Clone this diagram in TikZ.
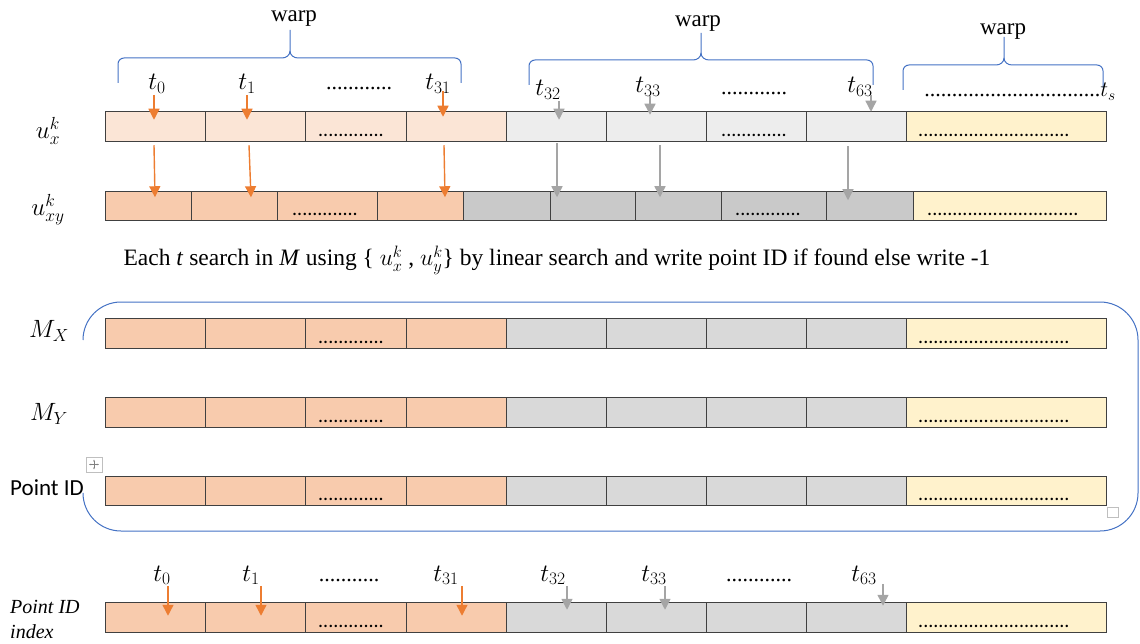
\RequirePackage{fix-cm}
\documentclass[tikz,border=0pt]{standalone}
\usepackage{fontspec}
\setmainfont{Liberation Serif}
\newfontfamily\calibri{Carlito}
\usetikzlibrary{arrows.meta,positioning}

\definecolor{peachlt}{HTML}{FBE5D6}
\definecolor{peach}{HTML}{F8CBAD}
\definecolor{greylt}{HTML}{EDEDED}
\definecolor{greymd}{HTML}{D9D9D9}
\definecolor{greydk}{HTML}{C9C9C9}
\definecolor{cream}{HTML}{FFF2CC}
\definecolor{boxline}{HTML}{404040}
\definecolor{arrorange}{HTML}{ED7D31}
\definecolor{arrgrey}{HTML}{A5A5A5}
\definecolor{braceblue}{HTML}{4472C4}

\begin{document}
\begin{tikzpicture}[x=1pt, y=-1pt,
	cell/.style={draw=boxline, line width=1pt, minimum height=29.5pt, inner sep=0pt, outer sep=0pt, anchor=west},
	tlab/.style={font=\fontsize{25}{25}\selectfont, inner sep=1pt, anchor=base},
	tdots/.style={font=\fontsize{22}{22}\selectfont, inner sep=1pt, anchor=base},
	warplab/.style={font=\fontsize{23}{23}\selectfont, inner sep=0pt, anchor=base},
	rowlab/.style={font=\fontsize{25}{25}\selectfont, inner sep=0pt},
	celldots/.style={font=\calibri\fontsize{20}{20}\selectfont, inner sep=0pt, anchor=base west},
	oarr/.style={draw=arrorange, line width=1.4pt, -{Triangle[width=11pt,length=11pt]}},
	garr/.style={draw=arrgrey, line width=1.4pt, -{Triangle[width=11pt,length=11pt]}},
	brace/.style={draw=braceblue, line width=1pt}]

	\useasboundingbox (0,0) rectangle (1140,644);

	% ---- u_x^k row
	\foreach \l/\r/\c [count=\i, evaluate=\r as \w using \r-\l] in
		{105/205/peachlt, 205/305/peachlt, 305/406/peachlt, 406/506/peachlt,
		 506/606/greylt, 606/706/greylt, 706/806/greylt, 806/906/greylt, 906/1106/cream}
		\node[cell, fill=\c, minimum width=\w pt] (ux\i) at (\l,126.5) {};
	\node[celldots] at ([xshift=13pt,yshift=5pt]ux3.south west) {.............};
	\node[celldots] at ([xshift=15pt,yshift=5pt]ux7.south west) {.............};
	\node[celldots] at ([xshift=12pt,yshift=5pt]ux9.south west) {..............................};

	% ---- u_xy^k row
	\foreach \l/\r/\c [count=\i, evaluate=\r as \w using \r-\l] in
		{105/191/peach, 191/277/peach, 277/377/peach, 377/463/peach,
		 463/550/greydk, 550/635/greydk, 635/721/greydk, 721/826/greydk, 826/913/greydk, 913/1106/cream}
		\node[cell, fill=\c, minimum width=\w pt] (uxy\i) at (\l,206) {};
	\node[celldots] at ([xshift=15pt,yshift=5pt]uxy3.south west) {.............};
	\node[celldots] at ([xshift=14pt,yshift=5pt]uxy8.south west) {.............};
	\node[celldots] at ([xshift=14pt,yshift=5pt]uxy10.south west) {..............................};

	% ---- M_X, M_Y, Point ID and index rows
	\foreach \rn/\ry in {mx/333.5, my/412.5, pid/491, idx/617.5} {
		\foreach \l/\r/\c [count=\i, evaluate=\r as \w using \r-\l] in
			{105/205/peach, 205/305/peach, 305/406/peach, 406/506/peach,
			 506/606/greymd, 606/706/greymd, 706/806/greymd, 806/906/greymd, 906/1106/cream}
			\node[cell, fill=\c, minimum width=\w pt] (\rn\i) at (\l,\ry) {};
		\node[celldots] at ([xshift=13pt,yshift=5pt]\rn3.south west) {.............};
		\node[celldots] at ([xshift=12pt,yshift=5pt]\rn9.south west) {..............................};
	}

	% row labels
	\node[rowlab] (lux) at (48,131) {$u^k_x$};
	\node[rowlab] (luxy) at (48,210) {$u^k_{xy}$};
	\node[rowlab] (lmx) at (49,331) {$M_X$};
	\node[rowlab] (lmy) at (49,414) {$M_Y$};
	\node[font=\calibri\fontsize{23}{23}\selectfont, inner sep=0pt, anchor=base west] (lpid) at (10,495) {Point ID};
	\node[font=\itshape\fontsize{20}{25}\selectfont, inner sep=0pt, align=left, anchor=north west] (lidx) at (10,600) {Point ID\\index};

	% warps
	\node[warplab] (warpA) at (294,22) {warp};
	\node[warplab] (warpB) at (698,27) {warp};
	\node[warplab] (warpC) at (1003,35) {warp};
	\draw[brace] (118,83) -- (118,64) to[out=90,in=180] (124,58) -- (282,58) to[out=0,in=-90] (290,51) -- (290,30);
	\draw[brace] (290,51) to[out=-90,in=180] (298,58) -- (455,58) to[out=0,in=90] (461,64) -- (461,83);
	\draw[brace] (529,85) -- (529,66) to[out=90,in=180] (535,60) -- (693,60) to[out=0,in=-90] (701,53) -- (701,33);
	\draw[brace] (701,53) to[out=-90,in=180] (709,60) -- (867,60) to[out=0,in=90] (873,66) -- (873,85);
	\draw[brace] (903,90) -- (903,71) to[out=90,in=180] (909,65) -- (996,65) to[out=0,in=-90] (1004,58) -- (1004,37);
	\draw[brace] (1004,58) to[out=-90,in=180] (1012,65) -- (1097,65) to[out=0,in=90] (1103,71) -- (1103,88);

	% thread labels, top
	\node[tlab] (t0) at (157,90) {$t_0$};
	\node[tlab] (t1) at (247,90) {$t_1$};
	\node[tdots] (dotsA) at (359,90) {............};
	\node[tlab] (t31) at (438,90) {$t_{31}$};
	\node[tlab] (t32) at (548,96) {$t_{32}$};
	\node[tlab] (t33) at (648,93) {$t_{33}$};
	\node[tdots] (dotsB) at (754,95) {............};
	\node[tlab] (t63) at (860,93) {$t_{63}$};
	\node[tlab, anchor=base east] (ts) at (1117,97) {\fontsize{22}{22}\selectfont................................$t_s$};

	\draw[oarr] ([xshift=-3pt]t0.south) -- ([xshift=-3pt,yshift=-8pt]t0.south |- ux1.north);
	\draw[oarr] (t1.south) -- ([yshift=-8pt]t1.south |- ux2.north);
	\draw[oarr] ([xshift=5pt,yshift=4pt]t31.south) -- ([xshift=5pt,yshift=-5pt]t31.south |- ux4.north);
	\draw[garr] ([xshift=11pt]t32.south) -- ([xshift=11pt,yshift=-8pt]t32.south |- ux5.north);
	\draw[garr] ([xshift=2pt,yshift=2pt]t33.south) -- ([xshift=2pt,yshift=-3pt]t33.south |- ux6.north);
	\draw[garr] ([xshift=11pt,yshift=3pt]t63.south) -- ([xshift=11pt,yshift=0pt]t63.south |- ux8.north);

	% u_x^k to u_xy^k
	\draw[oarr] ([xshift=-3pt,yshift=-4pt]t0.south |- ux1.south) -- ([xshift=-2pt,yshift=-6pt]t0.south |- uxy1.north);
	\draw[oarr] ([xshift=2pt,yshift=-4pt]t1.south |- ux2.south) -- ([xshift=4pt,yshift=-6pt]t1.south |- uxy2.north);
	\draw[oarr] ([xshift=6pt,yshift=-4pt]t31.south |- ux4.south) -- ([xshift=7pt,yshift=-6pt]t31.south |- uxy4.north);
	\draw[garr] ([xshift=9pt,yshift=-2pt]t32.south |- ux5.south) -- ([xshift=9pt,yshift=-6pt]t32.south |- uxy5.north);
	\draw[garr] ([xshift=12pt,yshift=-4pt]t33.south |- ux6.south) -- ([xshift=12pt,yshift=-6pt]t33.south |- uxy7.north);
	\draw[garr] ([xshift=-12pt,yshift=-5pt]t63.south |- ux8.south) -- ([xshift=-12pt,yshift=-9pt]t63.south |- uxy9.north);

	% search note
	\node[font=\fontsize{23.5}{23.5}\selectfont, inner sep=0pt, anchor=base] (note) at (557,266)
		{Each \textit{t} search in \textit{M} using \{ $u^k_x$ , $u^k_y$\} by linear search and write point ID if found else write -1};

	% group round the M rows
	\draw[brace] (83,340) arc[start angle=180, end angle=90, radius=38pt] -- (1100,302)
		arc[start angle=90, end angle=0, radius=38pt] -- (1138,493)
		arc[start angle=0, end angle=-90, radius=38pt] -- (121,531)
		arc[start angle=-90, end angle=-180, radius=38pt];
	\draw[gray!50, line width=0.8pt] (86,457) rectangle (102,472);
	\draw[gray, line width=0.5pt, {Stealth[length=2pt]}-{Stealth[length=2pt]}] (89,464.5) -- (99,464.5);
	\draw[gray, line width=0.5pt, {Stealth[length=2pt]}-{Stealth[length=2pt]}] (94,459.5) -- (94,469.5);
	\draw[gray!50, line width=0.8pt] (1107,507) rectangle (1118,517);

	% thread labels, bottom
	\node[tlab] (b0) at (162,581) {$t_0$};
	\node[tlab] (b1) at (251,581) {$t_1$};
	\node[tdots] (dotsC) at (349,581) {...........};
	\node[tlab] (b31) at (446,581) {$t_{31}$};
	\node[tlab] (b32) at (553,581) {$t_{32}$};
	\node[tlab] (b33) at (654,581) {$t_{33}$};
	\node[tdots] (dotsD) at (759,581) {............};
	\node[tlab] (b63) at (864,581) {$t_{63}$};

	\draw[oarr] ([xshift=6pt]b0.south) -- ([xshift=6pt,yshift=-13pt]b0.south |- idx1.north);
	\draw[oarr] ([xshift=10pt]b1.south) -- ([xshift=10pt,yshift=-13pt]b1.south |- idx2.north);
	\draw[oarr] ([xshift=16pt]b31.south) -- ([xshift=16pt,yshift=-13pt]b31.south |- idx4.north);
	\draw[garr] ([xshift=14pt]b32.south) -- ([xshift=14pt,yshift=-7pt]b32.south |- idx5.north);
	\draw[garr] ([xshift=11pt]b33.south) -- ([xshift=11pt,yshift=-7pt]b33.south |- idx6.north);
	\draw[garr] ([xshift=19pt,yshift=2pt]b63.south) -- ([xshift=19pt,yshift=-3pt]b63.south |- idx8.north);
\end{tikzpicture}
\end{document}
